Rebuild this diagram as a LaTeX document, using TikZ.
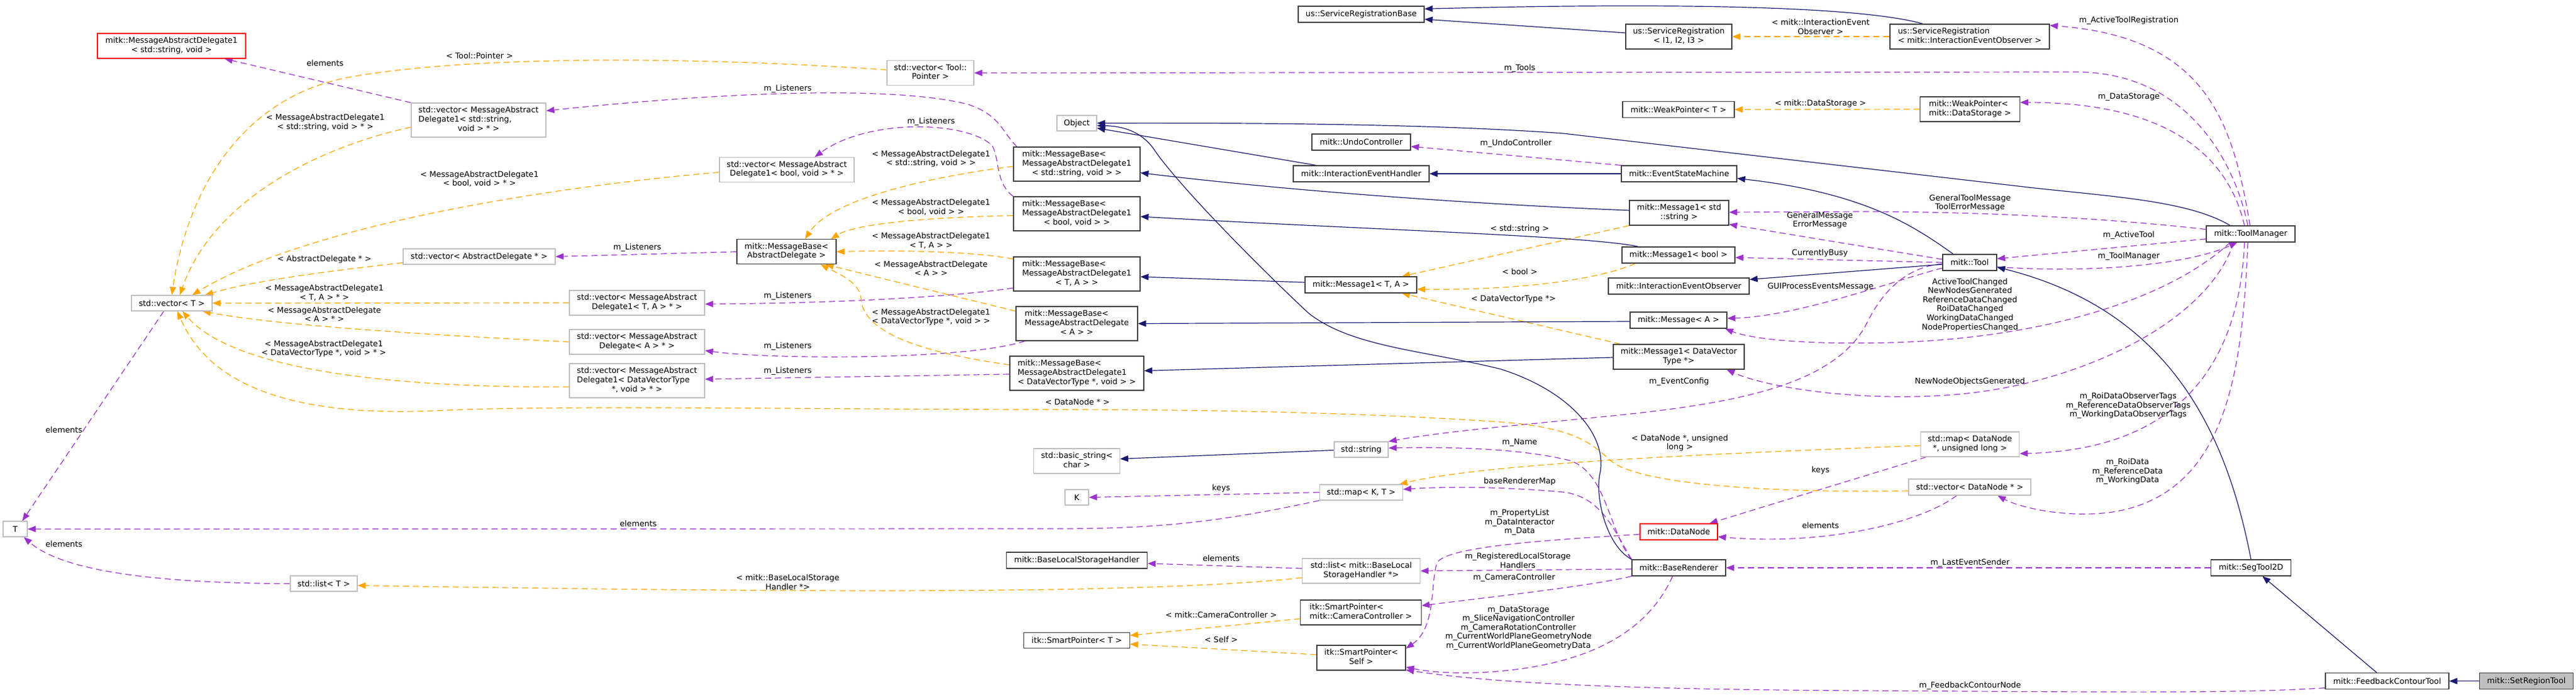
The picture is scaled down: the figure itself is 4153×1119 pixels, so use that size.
\documentclass[tikz,border=0pt]{standalone}
\usepackage{fontspec}
\setmainfont{DejaVu Sans}
\usetikzlibrary{arrows.meta,calc}
\definecolor{purp}{HTML}{9A32CD}
\definecolor{orng}{HTML}{FFA500}
\definecolor{navyc}{HTML}{191970}
\definecolor{gbord}{HTML}{BFBFBF}
\definecolor{dbord}{HTML}{404040}
\newcommand\fs{\fontsize{12.8}{14.6}\selectfont}
\newcommand\twol[2]{\begin{tabular}{@{}l@{}}#1\\\multicolumn{1}{@{}c@{}}{#2}\end{tabular}}
\newcommand\mkbox[6]{\node[#1, minimum width=#4pt, minimum height=#5pt] (#2) at (#3) {#6};}
\pgfdeclarelayer{bg}
\pgfsetlayers{bg,main}
\tikzset{
 cls/.style={draw=dbord, line width=1.2pt, fill=white, font=\fs, align=center, inner sep=0pt},
 gcls/.style={cls, draw=gbord},
 rcls/.style={cls, draw=red},
 lab/.style={font=\fs, align=center, inner sep=0pt},
 arr/.style={-{Triangle[length=13pt,width=10pt]}},
 pe/.style={draw=purp, line width=1.2pt, dash pattern=on 10pt off 6pt, arr},
 oe/.style={draw=orng, line width=1.2pt, dash pattern=on 10pt off 6pt, arr},
 ne/.style={draw=navyc, line width=1.2pt, arr},
}
\begin{document}
\begin{tikzpicture}[x=1pt,y=-1pt]
\useasboundingbox (0,0) rectangle (4153,1119);
% ---------- nodes ----------
\mkbox{rcls}{dlg1str}{276.5,74}{239}{40}{\twol{mitk::MessageAbstractDelegate1}{< std::string, void >}}
\mkbox{gcls}{vecT}{277,488.5}{130}{25}{std::vector< T >}
\mkbox{gcls}{T}{24.5,852.5}{39}{25}{T}
\mkbox{gcls}{listT}{522,940.5}{108}{25}{std::list< T >}
\mkbox{gcls}{vecMADstr}{771.5,193.5}{217}{55}{\twol{std::vector< MessageAbstract\\Delegate1< std::string,}{void > * >}}
\mkbox{gcls}{vecAD}{772.5,413.5}{245}{25}{std::vector< AbstractDelegate * >}
\mkbox{gcls}{vecTool}{1500,117.5}{140}{40}{\twol{std::vector< Tool::}{Pointer >}}
\mkbox{gcls}{vecMADbool}{1268.5,273.6}{217}{40}{\twol{std::vector< MessageAbstract}{Delegate1< bool, void > * >}}
\mkbox{cls}{MBAD}{1268,405.7}{160}{40}{\twol{mitk::MessageBase<}{AbstractDelegate >}}
\mkbox{gcls}{vecMADTA}{1027,488}{218}{40}{\twol{std::vector< MessageAbstract}{Delegate1< T, A > * >}}
\mkbox{gcls}{vecMADA}{1027,551}{218}{40}{\twol{std::vector< MessageAbstract}{Delegate< A > * >}}
\mkbox{gcls}{vecMADDV}{1027,613.5}{218}{55}{\twol{std::vector< MessageAbstract\\Delegate1< DataVectorType}{*, void > * >}}
\mkbox{gcls}{Object}{1736,198.5}{64}{25}{Object}
\mkbox{cls}{MBstr}{1736,264.5}{204}{55}{\twol{mitk::MessageBase<\\MessageAbstractDelegate1}{< std::string, void > >}}
\mkbox{cls}{MBbool}{1736,344.5}{204}{55}{\twol{mitk::MessageBase<\\MessageAbstractDelegate1}{< bool, void > >}}
\mkbox{cls}{MBTA}{1736,441.5}{204}{55}{\twol{mitk::MessageBase<\\MessageAbstractDelegate1}{< T, A > >}}
\mkbox{cls}{MBA}{1736,521.5}{196}{55}{\twol{mitk::MessageBase<\\MessageAbstractDelegate}{< A > >}}
\mkbox{cls}{MBDV}{1736,601.5}{216}{55}{\twol{mitk::MessageBase<\\MessageAbstractDelegate1}{< DataVectorType *, void > >}}
\mkbox{gcls}{basicstr}{1736,743}{138.5}{40}{\twol{std::basic\_string<}{char >}}
\mkbox{gcls}{K}{1736,801.5}{38}{25}{K}
\mkbox{cls}{BLSH}{1736,903}{227}{26}{mitk::BaseLocalStorageHandler}
\mkbox{cls}{SPT}{1736,1032}{170.5}{25}{itk::SmartPointer< T >}
\mkbox{cls}{SRBase}{2194.5,23}{203}{26}{us::ServiceRegistrationBase}
\mkbox{cls}{Undo}{2194.5,229}{159}{26}{mitk::UndoController}
\mkbox{cls}{IEH}{2194.5,280}{219}{26}{mitk::InteractionEventHandler}
\mkbox{cls}{MsgTA}{2194,459}{180}{26}{mitk::Message1< T, A >}
\mkbox{gcls}{stdstr}{2194.5,724.5}{87}{25}{std::string}
\mkbox{gcls}{mapKT}{2194.5,793.5}{134}{25}{std::map< K, T >}
\mkbox{gcls}{listBLSH}{2194.5,920}{190}{40}{\twol{std::list< mitk::BaseLocal}{StorageHandler *>}}
\mkbox{cls}{SPCC}{2194,987}{194.5}{40}{\twol{itk::SmartPointer<}{mitk::CameraController >}}
\mkbox{cls}{SPSelf}{2194.5,1060}{143}{40}{\twol{itk::SmartPointer<}{Self >}}
\mkbox{cls}{SRI}{2706.5,59}{171}{40}{\twol{us::ServiceRegistration}{< I1, I2, I3 >}}
\mkbox{cls}{WPT}{2706,176.5}{180}{26}{mitk::WeakPointer< T >}
\mkbox{cls}{ESM}{2707,280}{186}{26}{mitk::EventStateMachine}
\mkbox{cls}{Mstr}{2707,343}{160}{40}{\twol{mitk::Message1< std}{::string >}}
\mkbox{cls}{Mbool}{2706,411}{182}{26}{mitk::Message1< bool >}
\mkbox{cls}{IEO}{2706.5,461}{227}{26}{mitk::InteractionEventObserver}
\mkbox{cls}{MA}{2706,516}{156}{26}{mitk::Message< A >}
\mkbox{cls}{MDV}{2706.5,575}{211}{40}{\twol{mitk::Message1< DataVector}{Type *>}}
\mkbox{rcls}{DataNode}{2706.5,857}{125}{26}{mitk::DataNode}
\mkbox{cls}{BR}{2706.5,915}{151}{26}{mitk::BaseRenderer}
\mkbox{cls}{SRIEO}{3175.5,59}{257}{40}{\twol{us::ServiceRegistration}{< mitk::InteractionEventObserver >}}
\mkbox{cls}{WPDS}{3176,176}{160.5}{40}{\twol{mitk::WeakPointer<}{mitk::DataStorage >}}
\mkbox{cls}{Tool}{3175.5,423}{87}{26}{mitk::Tool}
\mkbox{gcls}{mapDN}{3176,716}{159}{40}{\twol{std::map< DataNode}{*, unsigned long >}}
\mkbox{gcls}{vecDN}{3175.5,785}{197}{26}{std::vector< DataNode * >}
\mkbox{cls}{TM}{3628.5,377}{143}{26}{mitk::ToolManager}
\mkbox{cls}{Seg}{3629,915}{128.5}{26}{mitk::SegTool2D}
\mkbox{cls}{FCT}{3848.5,1097.6}{199}{26}{mitk::FeedbackContourTool}
\mkbox{cls, fill=gbord}{SRT}{4073,1097.6}{151}{26}{mitk::SetRegionTool}
% ---------- edges ----------
\begin{pgfonlayer}{bg}
\fill[white] (0,0) rectangle (4153,1119);
% purple (usage)
\draw[pe] (vecMADstr.north west) -- ($(dlg1str.south)+(85.5,0)$);
\draw[pe] ($(vecT.south)+(-13,0)$) -- ($(T.north)+(11.5,0)$);
\draw[pe] (mapKT.south west) .. controls (1950,845) and (1850,852) .. (1700,852) -- (T.east);
\draw[pe] (listT.west) .. controls (250,940) and (100,920) .. ($(T.south)+(14,0)$);
\draw[pe] ($(MBstr.north west)+(6,0)$) .. controls (1615,212) and (1612,185) .. (1560,168) .. controls (1450,140) and (1200,145) .. ($(vecMADstr.east)+(0,-15)$);
\draw[pe] (MBbool.north west) .. controls (1605,295) and (1612,260) .. (1600,235) .. controls (1560,195) and (1400,190) .. ($(vecMADbool.north)+(45,0)$);
\draw[pe] (MBAD.west) -- (vecAD.east);
\draw[pe] ($(MBTA.west)+(0,22.5)$) .. controls (1560,475) and (1400,488) .. ($(vecMADTA.east)+(0,2)$);
\draw[pe] ($(MBA.south west)+(15,0)$) .. controls (1560,580) and (1250,580) .. ($(vecMADA.east)+(0,14)$);
\draw[pe] ($(MBDV.west)+(0,1.5)$) -- ($(vecMADDV.east)+(0,-2.5)$);
\draw[pe] ($(TM.north)+(-4.5,0)$) .. controls (3600,250) and (3520,118) .. (3350,116) -- (vecTool.east);
\draw[pe] ($(TM.north)+(-1,0)$) .. controls (3600,200) and (3560,60) .. ($(SRIEO.east)+(0,-18)$);
\draw[pe] ($(TM.north)+(-10,0)$) .. controls (3590,240) and (3480,165) .. ($(WPDS.east)+(0,-11)$);
\draw[pe] (ESM.north west) -- ($(Undo.east)+(0,7)$);
\draw[pe] ($(TM.west)+(0,-7.4)$) .. controls (3400,352) and (3200,341) .. (3000,341) -- ($(Mstr.east)+(0,-1)$);
\draw[pe] ($(Tool.west)+(0,-5)$) -- ($(Mstr.south east)+(0,-2)$);
\draw[pe] (Tool.west) -- ($(Mbool.east)+(0,4)$);
\draw[pe] ($(Tool.west)+(0,9)$) .. controls (3060,450) and (2900,510) .. ($(MA.east)+(0,-3)$);
\draw[pe] ($(TM.south)+(-33,0)$) .. controls (3500,480) and (3300,545) .. (3050,552) .. controls (2900,556) and (2820,545) .. ($(MA.south east)+(-3.4,0)$);
\draw[pe] ($(TM.south)+(-27.5,0)$) .. controls (3560,520) and (3350,620) .. (3150,636) .. controls (3000,648) and (2850,625) .. ($(MDV.south east)+(-29,0)$);
\draw[pe] ($(TM.west)+(0,8)$) -- ($(Tool.east)+(0,-6)$);
\draw[pe] ($(Tool.east)+(0,7)$) .. controls (3350,440) and (3520,430) .. ($(TM.south)+(-21.5,0)$);
\draw[pe] ($(Tool.west)+(0,2)$) .. controls (3080,430) and (3040,460) .. (3010,520) .. controls (2960,620) and (2800,650) .. (2600,670) .. controls (2450,685) and (2330,695) .. (stdstr.north east);
\draw[pe] (BR.north west) .. controls (2595,860) and (2590,760) .. (2530,742) .. controls (2450,722) and (2330,720) .. ($(stdstr.east)+(0,-2.5)$);
\draw[pe] (BR.north west) .. controls (2600,850) and (2580,800) .. (2520,793) .. controls (2420,784) and (2330,784) .. ($(mapKT.east)+(0,-5)$);
\draw[pe] ($(DataNode.west)+(0,4)$) .. controls (2500,870) and (2340,880) .. (2318,905) .. controls (2305,930) and (2318,1010) .. ($(SPSelf.east)+(0,-15)$);
\draw[pe] ($(BR.west)+(0,2)$) -- (listBLSH.east);
\draw[pe] (BR.south west) .. controls (2560,945) and (2420,960) .. ($(SPCC.east)+(0,-11)$);
\draw[pe] ($(BR.south)+(-10,0)$) .. controls (2660,1010) and (2580,1060) .. (2450,1078) .. controls (2360,1090) and (2300,1082) .. ($(SPSelf.east)+(0,15)$);
\draw[pe] ($(FCT.west)+(0,11)$) .. controls (3600,1118) and (3400,1115) .. (3000,1113) .. controls (2600,1111) and (2400,1100) .. ($(SPSelf.south east)+(0,-1)$);
\draw[pe] (Seg.west) -- (BR.east);
\draw[pe] ($(TM.south)+(-10,0)$) .. controls (3610,600) and (3500,725) .. ($(mapDN.east)+(0,15)$);
\draw[pe] ($(TM.south)+(-4.5,0)$) .. controls (3615,600) and (3590,800) .. (3400,826) .. controls (3320,835) and (3250,815) .. ($(vecDN.south east)+(-54,0)$);
\draw[pe] ($(mapDN.south west)+(9.5,0)$) -- ($(DataNode.north)+(49.5,0)$);
\draw[pe] ($(vecDN.south)+(-21,0)$) .. controls (3100,840) and (2950,880) .. ($(DataNode.east)+(0,8)$);
\draw[pe] (mapKT.west) -- (K.east);
\draw[pe] ($(listBLSH.west)+(0,-4)$) -- ($(BLSH.east)+(0,5)$);
% orange (template instances)
\draw[oe] ($(vecTool.west)+(0,-5)$) .. controls (1100,90) and (750,90) .. (560,125) .. controls (380,160) and (300,320) .. (vecT.north);
\draw[oe] ($(vecMADstr.west)+(0,11.5)$) .. controls (500,240) and (340,330) .. ($(vecT.north)+(13,0)$);
\draw[oe] ($(vecMADbool.west)+(0,4)$) .. controls (900,300) and (500,360) .. ($(vecT.north)+(33,0)$);
\draw[oe] ($(vecAD.west)+(0,10)$) .. controls (500,440) and (400,455) .. ($(vecT.north east)+(-12,0)$);
\draw[oe] (vecMADTA.west) -- (vecT.east);
\draw[oe] (vecMADA.west) .. controls (700,540) and (450,525) .. ($(vecT.south east)+(-16,0)$);
\draw[oe] ($(vecMADDV.west)+(0,10)$) .. controls (650,625) and (380,600) .. ($(vecT.south)+(17,0)$);
\draw[oe] ($(vecDN.west)+(0,6)$) .. controls (2850,795) and (2650,780) .. (2600,745) .. controls (2570,720) and (2550,690) .. (2420,680) .. controls (2200,665) and (1950,660) .. (1700,660) .. controls (1300,660) and (900,652) .. (700,662) .. controls (400,675) and (320,580) .. ($(vecT.south)+(9,0)$);
\draw[oe] (Mstr.south west) -- ($(MsgTA.north)+(66,0)$);
\draw[oe] ($(Mbool.south west)+(22,0)$) .. controls (2580,450) and (2450,468) .. ($(MsgTA.east)+(0,7)$);
\draw[oe] ($(MDV.north west)+(12,0)$) -- ($(MsgTA.south)+(66,0)$);
\draw[oe] (SRIEO.west) -- (SRI.east);
\draw[oe] (WPDS.west) -- (WPT.east);
\draw[oe] ($(mapDN.west)+(0,2)$) .. controls (2800,730) and (2400,745) .. ($(mapKT.north east)+(-6,0)$);
\draw[oe] ($(SPCC.west)+(0,10)$) -- ($(SPT.east)+(0,-8)$);
\draw[oe] ($(SPSelf.west)+(0,-5)$) -- ($(SPT.east)+(0,6)$);
\draw[oe] ($(listBLSH.west)+(0,11)$) .. controls (1850,958) and (1300,955) .. ($(listT.east)+(0,3)$);
\draw[oe] ($(MBstr.west)+(0,3.5)$) .. controls (1500,285) and (1340,320) .. ($(MBAD.north)+(30,0)$);
\draw[oe] ($(MBbool.west)+(0,3)$) .. controls (1500,350) and (1380,360) .. ($(MBAD.north east)+(-9,0)$);
\draw[oe] ($(MBTA.north west)+(0,4)$) .. controls (1570,405) and (1450,403) .. (MBAD.east);
\draw[oe] ($(MBA.north west)+(0,8)$) -- ($(MBAD.south)+(63,0)$);
\draw[oe] ($(MBDV.west)+(0,-13.5)$) .. controls (1500,570) and (1390,540) .. (1388,480) .. controls (1386,455) and (1350,440) .. ($(MBAD.south)+(55,0)$);
% navy (inheritance)
\draw[ne] ($(SRIEO.north)+(-75.5,0)$) .. controls (3000,10) and (2700,4) .. ($(SRBase.east)+(0,-8.7)$);
\draw[ne] ($(SRI.west)+(0,-6)$) -- ($(SRBase.east)+(0,8)$);
\draw[ne] ($(TM.north)+(-33,0)$) .. controls (3530,325) and (3420,318) .. (3280,303) -- (2520,215) .. controls (2300,199) and (2000,198) .. (Object.east);
\draw[ne] ($(IEH.north)+(-72.5,0)$) -- ($(Object.east)+(0,8)$);
\draw[ne] (BR.north west) .. controls (2590,880) and (2570,800) .. (2580,760) .. controls (2590,700) and (2530,630) .. (2420,595) .. controls (2300,565) and (2180,560) .. (2110,505) .. controls (2040,440) and (1900,300) .. (1860,240) .. controls (1840,212) and (1810,203) .. ($(Object.east)+(0,4)$);
\draw[ne] (ESM.west) -- (IEH.east);
\draw[ne] ($(Mstr.west)+(0,-4)$) .. controls (2400,330) and (2100,310) .. ($(MBstr.east)+(0,14)$);
\draw[ne] ($(Mbool.north west)+(27,0)$) .. controls (2560,380) and (2200,370) .. ($(MBbool.east)+(0,4.5)$);
\draw[ne] ($(MsgTA.west)+(0,-4)$) -- ($(MBTA.east)+(0,4.5)$);
\draw[ne] ($(MA.west)+(0,2)$) -- (MBA.east);
\draw[ne] ($(MDV.west)+(0,1)$) -- ($(MBDV.east)+(0,-4)$);
\draw[ne] ($(Tool.north)+(-26.5,0)$) .. controls (3080,360) and (3000,310) .. ($(ESM.east)+(0,7.5)$);
\draw[ne] ($(Tool.west)+(0,3)$) -- ($(IEO.north east)+(0,3)$);
\draw[ne] (Seg.north) .. controls (3590,700) and (3500,500) .. ($(Tool.south east)+(0,-6)$);
\draw[ne] ($(FCT.north)+(-16.7,0)$) -- ($(Seg.south)+(18.5,0)$);
\draw[ne] (SRT.west) -- (FCT.east);
\draw[ne] ($(stdstr.west)+(0,1)$) -- ($(basicstr.east)+(0,-3.5)$);
\end{pgfonlayer}
% ---------- edge labels ----------
\node[lab] (l1) at (524,102) {elements};
\node[lab] (l2) at (103,693) {elements};
\node[lab] (l3) at (1029,843.5) {elements};
\node[lab] (l4) at (103,877) {elements};
\node[lab] (l5) at (1270,143.6) {m\_Listeners};
\node[lab] (l6) at (1501,195.7) {m\_Listeners};
\node[lab] (l7) at (1027.5,399) {m\_Listeners};
\node[lab] (l8) at (1270,477.5) {m\_Listeners};
\node[lab] (l9) at (1270,558) {m\_Listeners};
\node[lab] (l10) at (1270,598) {m\_Listeners};
\node[lab] (l11) at (2450,110) {m\_Tools};
\node[lab] (l12) at (3432,33.6) {m\_ActiveToolRegistration};
\node[lab] (l13) at (3432,156) {m\_DataStorage};
\node[lab] (l14) at (2444,231.4) {m\_UndoController};
\node[lab] (l15) at (3176,327) {GeneralToolMessage\\ToolErrorMessage};
\node[lab] (l16) at (2934,355) {GeneralMessage\\ErrorMessage};
\node[lab] (l17) at (2934,407.5) {CurrentlyBusy};
\node[lab] (l18) at (2935,462.5) {GUIProcessEventsMessage};
\node[lab] (l19) at (3176,491) {ActiveToolChanged\\NewNodesGenerated\\ReferenceDataChanged\\RoiDataChanged\\WorkingDataChanged\\NodePropertiesChanged};
\node[lab] (l20) at (3176,615) {NewNodeObjectsGenerated};
\node[lab] (l21) at (3432,379) {m\_ActiveTool};
\node[lab] (l22) at (3432,413.6) {m\_ToolManager};
\node[lab] (l23) at (2707,615) {m\_EventConfig};
\node[lab] (l24) at (2450,713) {m\_Name};
\node[lab] (l25) at (2450,775.7) {baseRendererMap};
\node[lab] (l26) at (2450,841.7) {m\_PropertyList\\m\_DataInteractor\\m\_Data};
\node[lab] (l27) at (2447,903) {m\_RegisteredLocalStorage\\Handlers};
\node[lab] (l28) at (2441,931.4) {m\_CameraController};
\node[lab] (l29) at (2448,1012) {m\_DataStorage\\m\_SliceNavigationController\\m\_CameraRotationController\\m\_CurrentWorldPlaneGeometryNode\\m\_CurrentWorldPlaneGeometryData};
\node[lab] (l30) at (3176,1105) {m\_FeedbackContourNode};
\node[lab] (l31) at (3176,906.7) {m\_LastEventSender};
\node[lab] (l32) at (3431,653.7) {m\_RoiDataObserverTags\\m\_ReferenceDataObserverTags\\m\_WorkingDataObserverTags};
\node[lab] (l33) at (3430,760) {m\_RoiData\\m\_ReferenceData\\m\_WorkingData};
\node[lab] (l34) at (2935,758) {keys};
\node[lab] (l35) at (2935,847) {elements};
\node[lab] (l36) at (1968.75,786.7) {keys};
\node[lab] (l37) at (1968.75,899.3) {elements};
\node[lab] (o1) at (773,89.3) {< Tool::Pointer >};
\node[lab] (o2) at (524.5,197.5) {< MessageAbstractDelegate1\\< std::string, void > * >};
\node[lab] (o3) at (773,288.5) {< MessageAbstractDelegate1\\< bool, void > * >};
\node[lab] (o4) at (523,418) {< AbstractDelegate * >};
\node[lab] (o5) at (523,472) {< MessageAbstractDelegate1\\< T, A > * >};
\node[lab] (o6) at (523,506.5) {< MessageAbstractDelegate\\< A > * >};
\node[lab] (o7) at (522,562) {< MessageAbstractDelegate1\\< DataVectorType *, void > * >};
\node[lab] (o8) at (1737,648) {< DataNode * >};
\node[lab] (o9) at (2450,369) {< std::string >};
\node[lab] (o10) at (2450,438) {< bool >};
\node[lab] (o11) at (2440,482) {< DataVectorType *>};
\node[lab] (o12) at (2935,43) {< mitk::InteractionEvent\\Observer >};
\node[lab] (o13) at (2935,167) {< mitk::DataStorage >};
\node[lab] (o14) at (2708,714) {< DataNode *, unsigned\\long >};
\node[lab] (o15) at (1968.75,991) {< mitk::CameraController >};
\node[lab] (o16) at (1968.75,1031) {< Self >};
\node[lab] (o17) at (1270,938) {< mitk::BaseLocalStorage\\Handler *>};
\node[lab] (o18) at (1501,256) {< MessageAbstractDelegate1\\< std::string, void > >};
\node[lab] (o19) at (1501,334) {< MessageAbstractDelegate1\\< bool, void > >};
\node[lab] (o20) at (1501,388) {< MessageAbstractDelegate1\\< T, A > >};
\node[lab] (o21) at (1501,432.5) {< MessageAbstractDelegate\\< A > >};
\node[lab] (o22) at (1501,511) {< MessageAbstractDelegate1\\< DataVectorType *, void > >};
\end{tikzpicture}
\end{document}
